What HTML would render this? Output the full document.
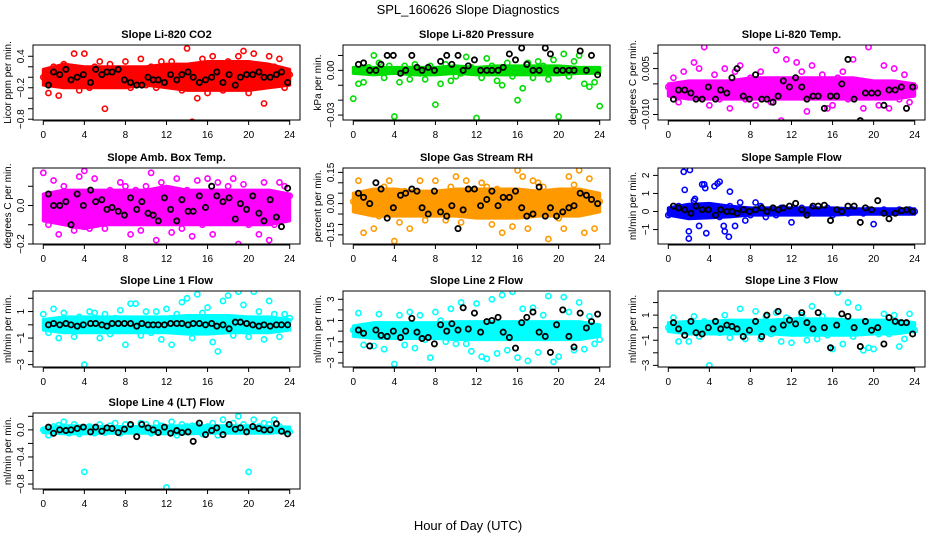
<!DOCTYPE html>
<html><head><meta charset="utf-8"><style>
html,body{margin:0;padding:0;background:#fff;}
svg{display:block;font-family:"Liberation Sans",sans-serif;}
</style></head><body>
<svg id="chart" width="936" height="540" viewBox="0 0 936 540">
<text x="468" y="14" text-anchor="middle" font-size="13">SPL_160626  Slope Diagnostics</text>
<text x="468" y="530" text-anchor="middle" font-size="13">Hour of Day (UTC)</text>
</svg>
<script>
const xTicks = [0,4,8,12,16,20,24];
const colorX = [0,0.5,1,1.5,2,2.5,3,3.5,4,4.5,5,5.5,6,6.5,7,7.5,8,8.5,9,9.5,10,10.5,11,11.5,12,12.5,13,13.5,14,14.5,15,15.5,16,16.5,17,17.5,18,18.5,19,19.5,20,20.5,21,21.5,22,22.5,23,23.5,24];
const bandX = [0,2,4,6,8,10,12,14,16,18,20,22,24];
const blackX = [0.5,1,1.6,2.2,2.7,3.3,3.9,4.6,5.1,5.7,6.2,6.7,7.3,7.9,8.5,9.1,9.6,10.2,10.7,11.2,11.8,12.4,13,13.5,14.1,14.6,15.2,15.8,16.4,16.9,17.5,18.1,18.7,19.2,19.8,20.4,21,21.5,22.1,22.7,23.2,23.8];

const titles = ["Slope Li-820 CO2","Slope Li-820 Pressure","Slope Li-820 Temp.","Slope Amb. Box Temp.","Slope Gas Stream RH","Slope Sample Flow","Slope Line 1 Flow","Slope Line 2 Flow","Slope Line 3 Flow","Slope Line 4 (LT) Flow"];
const yTitles = ["Licor ppm per min.","kPa per min.","degrees C per min.","degrees C per min.","percent per min.","ml/min per min.","ml/min per min.","ml/min per min.","ml/min per min.","ml/min per min."];
const colors = ["#ff0000","#00dd00","#ff00ff","#ff00ff","#ff9900","#0000ff","#00ffff","#00ffff","#00ffff","#00ffff"];
const yMin = [-0.815,-0.0333,-0.0118,-0.2,-0.194,-1.80,-3.18,-3.38,-3.13,-0.873];
const yMax = [0.615,0.017,0.0127,0.195,0.171,2.41,2.55,3.78,2.92,0.249];
const yTickVals = [[-0.8,-0.6,-0.4,-0.2,0,0.2,0.4],[-0.03,-0.02,-0.01,0,0.01],[-0.01,-0.005,0,0.005,0.01],[-0.2,-0.1,0,0.1],[-0.15,-0.1,-0.05,0,0.05,0.1,0.15],[-1,0,1,2],[-3,-2,-1,0,1,2],[-3,-2,-1,0,1,2,3],[-3,-2,-1,0,1,2],[-0.8,-0.6,-0.4,-0.2,0,0.2]];
const yTickLabels = [["-0.8","-0.2","0.4"],["-0.03","0.00"],["-0.010","0.005"],["-0.2","0.0"],["-0.15","0.00","0.15"],["-1","0","1","2"],["-3","-1","1"],["-3","-1","1","3"],["-3","-1","1"],["-0.8","-0.4","0.0"]];

const col1 = [0.0,-0.3,0.2,-0.35,0.25,-0.1,0.45,-0.25,0.45,-0.2,0.2,0.3,-0.6,0.25,0.1,-0.15,0.3,-0.2,0.15,0.35,-0.15,0.2,-0.2,0.3,-0.1,0.3,0.05,-0.25,0.55,-0.85,-0.4,0.35,-0.3,0.4,0.2,-0.25,0.3,-0.15,0.4,0.5,-0.3,0.45,-0.9,-0.5,0.4,0.2,0.35,-0.2,0.05];
const col2 = [-0.019,-0.009,-0.008,0.002,0.01,0.005,-0.005,0.003,-0.031,-0.008,0.003,-0.006,0.004,-0.002,-0.006,0.003,-0.023,-0.009,0.004,-0.007,-0.004,-0.002,0.009,0.002,-0.032,-0.005,0.008,0.003,-0.007,-0.01,0.005,-0.004,-0.02,-0.012,0.005,-0.005,0.006,0.003,-0.006,0.007,-0.031,0.011,-0.004,0.006,0.01,-0.009,-0.011,-0.008,-0.024];
const col3 = [-0.001,0.002,-0.006,0.004,-0.003,0.007,0.005,0.012,-0.007,0.003,-0.005,0.005,-0.008,0.004,0.006,-0.005,0.002,-0.007,0.004,-0.003,-0.006,0.011,-0.012,0.008,-0.004,0.007,0.004,-0.009,0.006,-0.003,0.003,-0.008,-0.007,0.002,0.004,-0.005,0.008,0.0,-0.008,0.012,-0.003,-0.007,0.006,-0.008,0.005,-0.005,0.003,-0.006,-0.001];
const col4 = [0.17,-0.1,0.13,-0.15,0.1,-0.05,-0.13,0.15,0.18,-0.12,0.14,0.05,-0.12,0.08,-0.08,0.12,0.1,-0.15,0.08,-0.13,0.1,0.17,-0.18,0.12,-0.09,-0.14,0.14,-0.12,0.08,-0.16,0.13,-0.1,0.14,-0.15,0.12,-0.05,0.1,0.14,-0.2,0.11,-0.1,0.05,-0.15,0.12,-0.18,-0.1,0.12,0.1,0.05];
const col5 = [0.01,0.11,-0.14,0.05,-0.12,-0.06,0.08,0.11,-0.18,-0.09,0.06,-0.12,0.06,0.11,-0.08,0.05,0.11,0.02,-0.08,0.08,0.13,-0.09,0.11,0.05,-0.06,0.1,0.08,-0.1,0.07,-0.14,0.05,-0.11,0.16,0.13,-0.12,0.11,0.1,0.08,-0.17,0.05,-0.07,-0.12,0.13,0.09,0.16,-0.14,0.12,-0.12,0.01];
const col6 = [-0.2,0.1,0.3,2.2,-1.5,0.6,-0.8,1.5,0.2,1.4,-0.3,-1.1,0.3,-0.8,0.5,-0.5,-0.2,0.5,0.3,-0.3,0.1,-0.2,0.2,0.0,-0.6,0.1,0.2,-0.1,0.2,0.1,0.0,0.2,-0.2,0.1,0.0,-0.1,0.1,0.0,-0.1,0.1,-0.7,0.0,0.1,-0.1,0.0,0.1,0.0,0.1,0.0];
const col7 = [0.8,-0.6,1.2,-1.0,0.9,0.3,-0.9,0.6,-3.0,1.0,0.9,-1.0,0.8,-0.7,0.5,1.1,-1.5,1.6,1.6,-0.8,1.0,-0.6,1.0,-1.1,1.2,-1.5,0.8,1.7,2.0,-1.0,2.3,0.9,1.3,-1.3,-2.0,1.8,2.2,-0.8,2.5,1.5,-0.9,2.5,1.0,-1.1,1.8,0.8,-0.9,0.8,0.5];
const col8 = [0.1,1.7,-1.3,0.3,-1.4,1.6,-1.7,0.5,-3.1,1.5,-1.3,1.8,-1.6,1.5,-0.8,-2.5,1.8,1.0,-1.0,2.1,-1.2,2.7,-1.2,-1.9,2.6,-2.4,-2.6,3.0,-2.1,3.4,-1.8,3.7,-2.5,2.1,-2.8,2.2,-2.0,1.5,3.3,-2.9,-2.4,3.2,1.8,-1.8,2.7,-1.7,1.4,-1.2,-0.8];
const col9 = [0.0,0.8,-1.1,0.2,-1.1,0.9,-0.7,0.5,-3.0,0.2,-0.4,1.0,-0.8,0.4,1.5,-0.9,0.3,1.3,-0.9,0.9,-0.5,1.2,-1.1,0.8,-1.2,0.6,1.0,-1.0,1.7,-0.9,0.9,-0.6,-1.7,2.8,-1.3,2.0,-0.7,1.6,-1.8,-1.6,-1.7,-0.5,1.1,-0.5,1.0,-1.5,-0.9,1.1,-0.2];
const col10 = [0.0,-0.08,0.05,0.07,0.12,-0.05,0.08,-0.06,-0.62,0.05,-0.05,0.08,-0.04,0.06,0.1,-0.05,0.08,0.06,-0.03,0.1,0.08,-0.05,0.1,0.06,-0.85,0.12,-0.08,0.08,0.05,0.06,0.07,-0.06,0.05,0.1,-0.08,0.15,0.05,0.1,0.2,0.08,-0.62,0.15,0.05,0.1,0.08,0.15,0.05,-0.03,-0.03];
const colorY = [col1,col2,col3,col4,col5,col6,col7,col8,col9,col10];

const bandLo = [
 [-0.15,-0.2,-0.2,-0.2,-0.2,-0.15,-0.2,-0.25,-0.25,-0.25,-0.25,-0.2,-0.15],
 [-0.002,-0.003,-0.002,-0.003,-0.003,-0.002,-0.003,-0.003,-0.003,-0.003,-0.003,-0.002,-0.002],
 [-0.004,-0.005,-0.005,-0.005,-0.005,-0.005,-0.005,-0.005,-0.005,-0.005,-0.005,-0.005,-0.004],
 [-0.08,-0.1,-0.12,-0.1,-0.1,-0.1,-0.1,-0.1,-0.1,-0.1,-0.1,-0.1,-0.08],
 [-0.04,-0.06,-0.06,-0.06,-0.06,-0.06,-0.07,-0.07,-0.07,-0.06,-0.06,-0.06,-0.04],
 [-0.2,-0.4,-0.35,-0.3,-0.2,-0.2,-0.2,-0.2,-0.2,-0.15,-0.15,-0.15,-0.15],
 [-0.4,-0.6,-0.6,-0.6,-0.6,-0.6,-0.6,-0.7,-0.7,-0.6,-0.6,-0.6,-0.4],
 [-0.5,-0.7,-0.7,-0.7,-0.7,-0.8,-0.8,-0.8,-0.8,-0.8,-0.8,-0.8,-0.5],
 [-0.3,-0.5,-0.5,-0.5,-0.5,-0.5,-0.6,-0.6,-0.6,-0.6,-0.5,-0.5,-0.3],
 [-0.04,-0.06,-0.06,-0.05,-0.05,-0.05,-0.06,-0.06,-0.05,-0.05,-0.05,-0.05,-0.03]];
const bandHi = [
 [0.15,0.25,0.2,0.2,0.2,0.2,0.25,0.25,0.3,0.3,0.3,0.25,0.15],
 [0.002,0.002,0.002,0.002,0.002,0.003,0.002,0.003,0.003,0.003,0.003,0.002,0.002],
 [0.0,0.001,0.001,0.001,0.002,0.002,0.002,0.002,0.002,0.002,0.001,0.001,0.0],
 [0.06,0.08,0.08,0.08,0.08,0.08,0.1,0.08,0.08,0.08,0.08,0.08,0.06],
 [0.05,0.07,0.07,0.06,0.06,0.07,0.07,0.07,0.07,0.06,0.07,0.07,0.05],
 [0.2,0.4,0.45,0.3,0.2,0.2,0.2,0.2,0.2,0.15,0.15,0.15,0.15],
 [0.4,0.6,0.6,0.6,0.6,0.6,0.6,0.7,0.7,0.7,0.6,0.6,0.4],
 [0.5,0.8,0.8,0.8,0.8,0.9,0.9,0.9,0.9,0.9,0.9,0.9,0.6],
 [0.4,0.5,0.5,0.6,0.6,0.6,0.7,0.7,0.7,0.6,0.6,0.6,0.4],
 [0.03,0.06,0.06,0.05,0.05,0.05,0.06,0.06,0.06,0.06,0.06,0.05,0.04]];

const blk1 = [-0.15,0.1,0.05,0.15,-0.05,0.0,0.05,-0.1,0.15,0.05,0.1,0.1,0.15,-0.05,-0.1,-0.15,-0.15,0.0,-0.05,-0.05,-0.1,0.05,-0.05,0.05,0.1,0.0,-0.1,-0.05,0.0,0.1,-0.1,0.05,-0.15,0.0,0.05,0.05,0.1,0.0,0.0,0.05,0.1,-0.1];
const blk2 = [0.004,0.005,0.0,0.0,0.004,0.01,0.01,-0.002,0.0,0.01,0.002,0.0,0.002,0.0,0.006,0.01,0.004,0.01,0.0,0.003,0.007,0.0,0.0,0.0,0.0,0.002,0.011,0.007,0.015,0.004,0.0,0.0,0.015,0.011,0.0,0.0,0.0,0.0,0.013,0.0,0.01,-0.003];
const blk3 = [-0.005,-0.002,-0.002,-0.003,-0.005,-0.005,-0.001,-0.005,-0.002,-0.003,0.002,0.005,-0.004,-0.005,0.003,-0.005,-0.005,-0.006,-0.004,0.001,-0.001,0.002,-0.001,-0.005,-0.004,-0.004,-0.008,-0.004,-0.004,0.0,0.008,-0.005,-0.012,-0.003,-0.003,-0.003,-0.007,-0.002,-0.002,-0.001,-0.008,-0.001];
const blk4 = [0.06,0.0,0.0,0.02,-0.1,0.06,0.0,0.08,0.02,0.03,-0.02,-0.01,-0.03,-0.05,0.04,-0.02,0.02,-0.04,-0.05,-0.08,0.04,-0.02,-0.08,0.03,-0.03,-0.03,0.05,-0.01,0.1,0.05,0.02,0.04,-0.07,0.01,-0.02,0.05,-0.04,-0.08,0.03,-0.06,-0.11,0.09];
const blk5 = [0.05,0.03,0.0,0.1,0.07,-0.07,-0.02,0.04,0.05,0.07,0.06,-0.02,-0.05,0.06,-0.04,-0.06,-0.01,-0.12,-0.03,0.07,0.07,-0.01,0.02,0.06,-0.01,0.03,0.03,0.06,-0.02,-0.06,-0.05,0.08,-0.06,-0.02,-0.06,-0.04,-0.02,-0.01,0.05,0.04,0.02,0.0];
const blk6 = [0.3,0.2,0.1,-0.1,0.3,0.1,0.1,-0.2,0.1,0.0,0.0,-0.1,0.1,0.0,0.1,0.2,0.0,0.2,0.1,0.2,0.3,0.45,0.1,-0.2,0.3,0.3,0.35,-0.5,0.1,0.0,0.3,0.3,-0.6,0.2,0.1,0.6,-0.1,-0.4,-0.1,0.05,0.1,0.0];
const blk7 = [0.0,0.1,0.0,0.1,0.0,-0.1,0.0,0.1,0.1,0.0,-0.1,0.1,0.1,0.1,0.1,-0.1,0.1,0.0,0.0,0.0,0.0,0.1,0.1,0.1,0.0,0.1,0.1,0.0,0.1,-0.1,0.0,-0.3,0.2,0.2,0.1,0.0,-0.1,0.0,-0.1,0.0,0.0,0.0];
const blk8 = [0.1,-0.2,-1.4,0.1,-0.4,-0.5,0.0,-0.6,0.0,1.2,-0.1,-0.7,-0.6,-1.2,0.6,0.0,0.7,0.1,2.2,0.2,1.7,-0.1,0.9,1.0,1.3,-0.1,-0.6,-1.6,0.8,1.3,1.8,-0.1,-0.5,-2.0,0.6,2.0,-0.5,-1.5,1.7,0.3,0.9,1.6];
const blk9 = [0.4,-0.1,-0.6,0.5,-0.4,-0.5,0.0,0.5,-0.1,0.2,0.1,-0.1,-0.7,-0.2,0.5,-0.7,1.0,-0.1,1.3,0.2,0.6,0.3,1.2,0.4,-0.1,1.2,0.0,-1.6,0.2,1.1,0.9,0.0,-1.5,0.5,-0.2,0.0,-1.3,0.8,0.5,0.4,0.4,-0.5];
const blk10 = [0.04,-0.05,0.0,-0.01,0.0,0.02,0.04,-0.03,0.04,-0.02,0.03,0.02,-0.04,0.01,0.08,-0.1,0.08,0.03,0.0,-0.04,0.04,-0.05,-0.01,-0.04,-0.03,-0.17,0.1,-0.07,-0.01,0.03,-0.07,0.08,0.01,0.03,-0.03,0.05,0.02,0.0,0.0,0.09,-0.02,-0.06];
const blackY = [blk1,blk2,blk3,blk4,blk5,blk6,blk7,blk8,blk9,blk10];

const sampleExtraX = [2.1,3.3,5.0,5.9,3.7,4.8,2.0,2.6,6.0,5.4,1.6,3.6];
const sampleExtraY = [2.3,1.5,1.65,-1.4,-1.2,1.55,-1.1,0.7,1.1,-0.8,1.2,1.3];

const NS = "http://www.w3.org/2000/svg";
const svg = document.getElementById("chart");
const colLeft = [33,343,658], boxW = 267;
const rowTop = [45,168,291,413], rowBot = [120,244,367,489];
function mk(tag, attrs, parent){ const e=document.createElementNS(NS,tag); for(const k in attrs) e.setAttribute(k,attrs[k]); (parent||svg).appendChild(e); return e; }

for (let p=0;p<10;p++){
  const L = colLeft[p%3], R = L+boxW, T = rowTop[Math.floor(p/3)], B = rowBot[Math.floor(p/3)];
  const xs = h => L + 10.3 + h*(boxW-20.6)/24;
  const ys = v => B - (v - yMin[p])/(yMax[p]-yMin[p])*(B-T);
  const g = mk("g",{});
  
  
  const cp = mk("clipPath",{id:"clip"+p},g);
  mk("rect",{x:L,y:T,width:boxW,height:B-T},cp);
  const plot = mk("g",{"clip-path":"url(#clip"+p+")"},g);
  
  
  let pts = bandX.map((h,i)=>xs(h)+","+ys(bandHi[p][i]));
  pts = pts.concat(bandX.map((h,i)=>xs(h)+","+ys(bandLo[p][i])).reverse());
  const band = mk("polygon",{points:pts.join(" "),fill:colors[p],stroke:colors[p],"stroke-width":3,"stroke-linejoin":"round"},plot);
  
  
  const drawPt = (h,v,c,w,name)=>{
    const c1 = mk("circle",{cx:xs(h),cy:ys(v),r:2.6,fill:"none",stroke:c,"stroke-width":w},plot);
    
    
  };
  colorY[p].forEach((v,i)=>drawPt(colorX[i],v,colors[p],1.6,'series-point'));
  if (p===5) sampleExtraX.forEach((h,i)=>drawPt(h,sampleExtraY[i],colors[p],1.6,'series-point'));
  blackY[p].forEach((v,i)=>{ if(i<blackX.length) drawPt(blackX[i],v,"#000",1.8,'reference-point'); });
  const box = mk("rect",{x:L,y:T,width:boxW,height:B-T,fill:"none",stroke:"#000","stroke-width":1},g);
  
  
  const t = mk("text",{x:(L+R)/2,y:T-7,"text-anchor":"middle","font-size":"11","font-weight":"bold"},g);
  t.textContent = titles[p];
  
  
  mk("line",{x1:xs(0),x2:xs(24),y1:B+1,y2:B+1,stroke:"#000"},g);
  xTicks.forEach(h=>{
    mk("line",{x1:xs(h),x2:xs(h),y1:B,y2:B+5,stroke:"#000"},g);
    const tx = mk("text",{x:xs(h),y:B+18,"text-anchor":"middle","font-size":"10"},g);
    tx.textContent = h;
    
    
  });
  yTickVals[p].forEach(v=>{ if (ys(v)>=T-1 && ys(v)<=B+1) mk("line",{x1:L-5,x2:L,y1:ys(v),y2:ys(v),stroke:"#000"},g); });
  yTickLabels[p].forEach(s=>{
    const v = parseFloat(s);
    const ty = mk("text",{x:0,y:0,"text-anchor":"middle","font-size":"10",transform:"translate("+(L-9)+","+ys(v)+") rotate(-90)"},g);
    ty.textContent = s.replace("-","\u2212");
    
    
  });
  const yt = mk("text",{x:0,y:0,"text-anchor":"middle","font-size":"10",transform:"translate("+(L-22)+","+((T+B)/2)+") rotate(-90)"},g);
  yt.textContent = yTitles[p];
  
  
}
</script>
</body></html>
